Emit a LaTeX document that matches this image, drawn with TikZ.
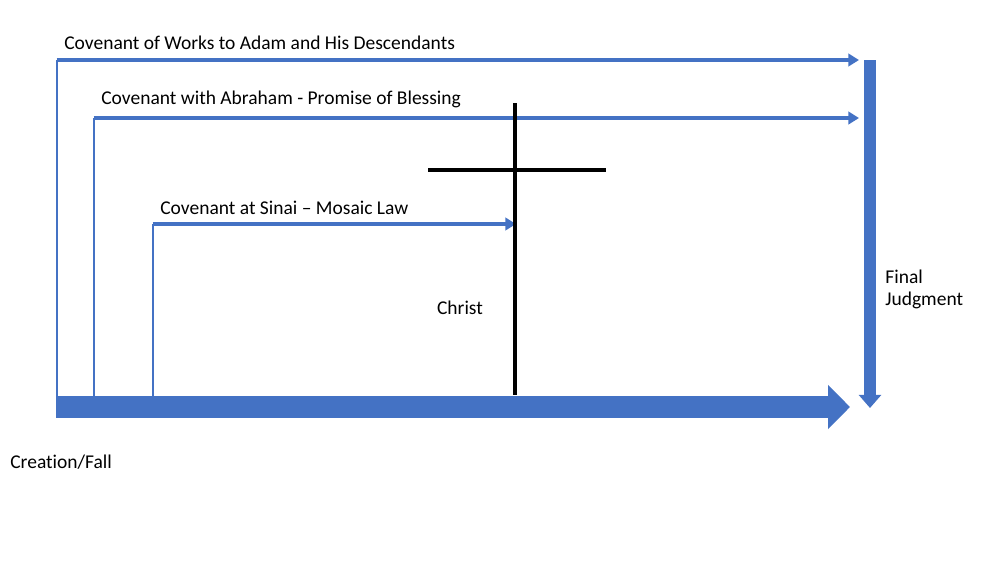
\documentclass[tikz,border=0pt]{standalone}
\usepackage{fontspec}
\setmainfont{Carlito}[Ligatures=NoCommon]
\usepackage{tikz}
\usetikzlibrary{arrows.meta, positioning, calc}
\definecolor{covblue}{RGB}{68,114,196}

\begin{document}
\begin{tikzpicture}[x=0.02cm, y=-0.02cm,
    lbl/.style={anchor=west, inner sep=0pt, font=\fontsize{11.1}{12.5}\selectfont},
    covline/.style={covblue, line width=2.8pt, -{Triangle[length=6pt,width=7pt]}},
    startline/.style={covblue, line width=1.1pt},
    crossbar/.style={black, line width=2.4pt}]

\useasboundingbox (0,0) rectangle (990,586);

% labels
\node[lbl] (works) at (64,43) {Covenant of Works to Adam and His Descendants};
\node[lbl] (abraham) at (101,99) {Covenant with Abraham - Promise of Blessing};
\node[lbl] (sinai) at (160,208) {Covenant at Sinai -- Mosaic Law};
\node[lbl, anchor=center] (christ) at (460,308) {Christ};
\node[lbl, align=left] (judgment) at (885,289) {Final\\Judgment};
\node[lbl] (creation) at (10,462) {Creation/Fall};

% end points
\coordinate (worksstart) at (57,60);
\coordinate (worksend) at (859,60);
\coordinate (abrahamstart) at (94,118);
\coordinate (abrahamend) at (859,118);
\coordinate (sinaistart) at (153,224);
\coordinate (sinaiend) at (516,224);
\coordinate (historystart) at (56,407);
\coordinate (historyend) at (850,407);
\coordinate (judgmenttop) at (870,60);
\coordinate (judgmentend) at (870,408);
\coordinate (crosstop) at (515,103);
\coordinate (crossfoot) at (515,395);
\coordinate (crossleft) at (428,170);
\coordinate (crossright) at (606,170);

% main line of history
\draw[covblue, line width=12.5pt, -{Triangle[length=12.5pt,width=24.5pt]}] (historystart) -- (historyend);

% covenants
\draw[startline] (worksstart) -- (worksstart |- historystart);
\draw[startline] (abrahamstart) -- (abrahamstart |- historystart);
\draw[startline] (sinaistart) -- (sinaistart |- historystart);
\draw[covline] ($(worksstart)+(-0.5,0)$) -- (worksend);
\draw[covline] ($(abrahamstart)+(-0.5,0)$) -- (abrahamend);
\draw[covline] ($(sinaistart)+(-0.5,0)$) -- (sinaiend);

% cross
\draw[crossbar] (crosstop) -- (crossfoot);
\draw[crossbar] (crossleft) -- (crossright);

% final judgment
\draw[covblue, line width=6.8pt, -{Triangle[length=7.5pt,width=12.5pt]}] (judgmenttop) -- (judgmentend);
\end{tikzpicture}
\end{document}
